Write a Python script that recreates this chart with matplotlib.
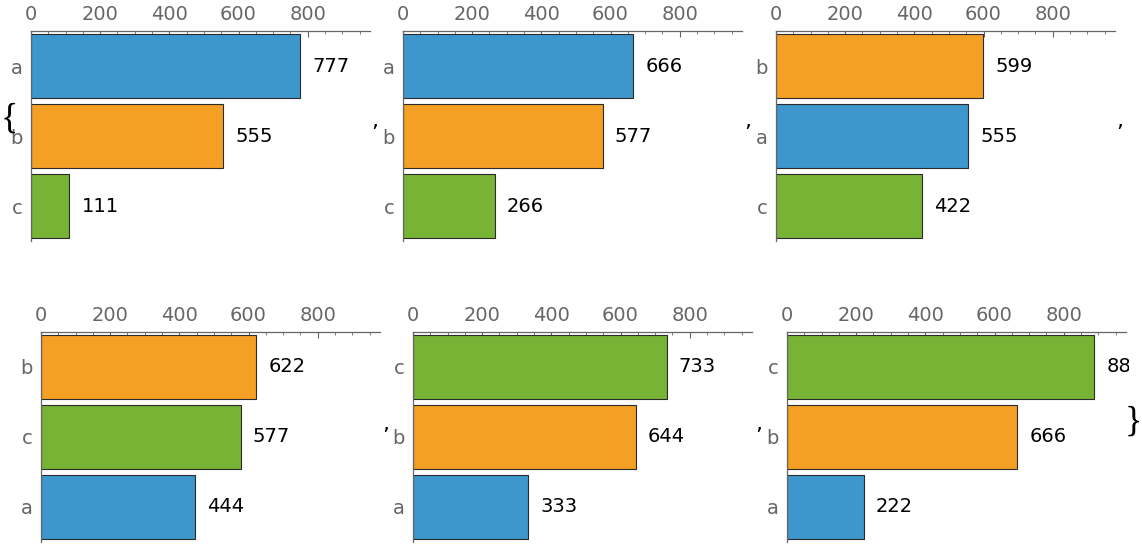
import matplotlib
matplotlib.use("Agg")
import matplotlib.pyplot as plt
from matplotlib.transforms import Bbox

W, H = 1142, 544
DPI = 100

# ---- data ----
panel1_cats = ["a", "b", "c"]
panel1_vals = [777, 555, 111]
panel2_cats = ["a", "b", "c"]
panel2_vals = [666, 577, 266]
panel3_cats = ["b", "a", "c"]
panel3_vals = [599, 555, 422]
panel4_cats = ["b", "c", "a"]
panel4_vals = [622, 577, 444]
panel5_cats = ["c", "b", "a"]
panel5_vals = [733, 644, 333]
panel6_cats = ["c", "b", "a"]
panel6_vals = [888, 666, 222]

panels = [
    (panel1_cats, panel1_vals),
    (panel2_cats, panel2_vals),
    (panel3_cats, panel3_vals),
    (panel4_cats, panel4_vals),
    (panel5_cats, panel5_vals),
    (panel6_cats, panel6_vals),
]

major_ticks = [0, 200, 400, 600, 800]
minor_ticks = [50, 100, 150, 250, 300, 350, 450, 500, 550, 650, 700, 750, 850, 900, 950]
x_max = 980

colors = {"a": "#3e97cc", "b": "#f3a025", "c": "#77b436"}

# ---- layout (pixels) ----
lefts = [31, 403, 776, 41, 413, 787]
tops = [31, 31, 31, 332, 332, 332]
ax_w, ax_h = 339, 210

fig = plt.figure(figsize=(W / DPI, H / DPI), dpi=DPI)
fig.patch.set_facecolor("white")

for i, (cats, vals) in enumerate(panels):
    l, t = lefts[i], tops[i]
    ax = fig.add_axes([l / W, (H - t - ax_h) / H, ax_w / W, ax_h / H])
    ypos = list(range(len(cats)))[::-1]
    ax.barh(ypos, vals, height=0.91,
            color=[colors[c] for c in cats],
            edgecolor="#2b2b2b", linewidth=0.8, zorder=2)
    ax.set_xlim(0, x_max)
    ax.set_ylim(-0.5, len(cats) - 0.5)
    ax.set_yticks(ypos)
    ax.set_yticklabels(cats)
    ax.xaxis.tick_top()
    ax.set_xticks(major_ticks)
    ax.set_xticks(minor_ticks, minor=True)
    ax.tick_params(axis="x", which="major", direction="in", length=4, width=0.8,
                   color="#666666", labelcolor="#666666", labelsize=14, pad=5)
    ax.tick_params(axis="x", which="minor", direction="in", length=2.5, width=0.6,
                   color="#666666")
    ax.tick_params(axis="y", length=0, labelcolor="#666666", labelsize=14, pad=6)
    for s in ["right", "bottom"]:
        ax.spines[s].set_visible(False)
    for s in ["top", "left"]:
        ax.spines[s].set_color("#666666")
        ax.spines[s].set_linewidth(0.9)
    clip = Bbox([[l - 40, 0], [1129, H]])
    for y, v in zip(ypos, vals):
        txt = ax.text(v + 35, y, str(v), va="center", ha="left",
                      fontsize=14, color="black", clip_on=True)
        txt.set_clip_box(clip)

# commas between panels
comma_pos = [(375, 127), (748, 127), (1120, 127), (386, 430), (759, 430)]
for x, y in comma_pos:
    fig.text(x / W, (H - y) / H, ",", ha="center", va="baseline",
             fontsize=16, color="black")

# list braces
fig.text(9 / W, (H - 119) / H, "{", ha="center", va="center",
         fontsize=26, color="black", family="Liberation Serif")
fig.text(1133 / W, (H - 422) / H, "}", ha="center", va="center",
         fontsize=26, color="black", family="Liberation Serif")

fig.savefig("out.png", dpi=DPI, facecolor="white")
